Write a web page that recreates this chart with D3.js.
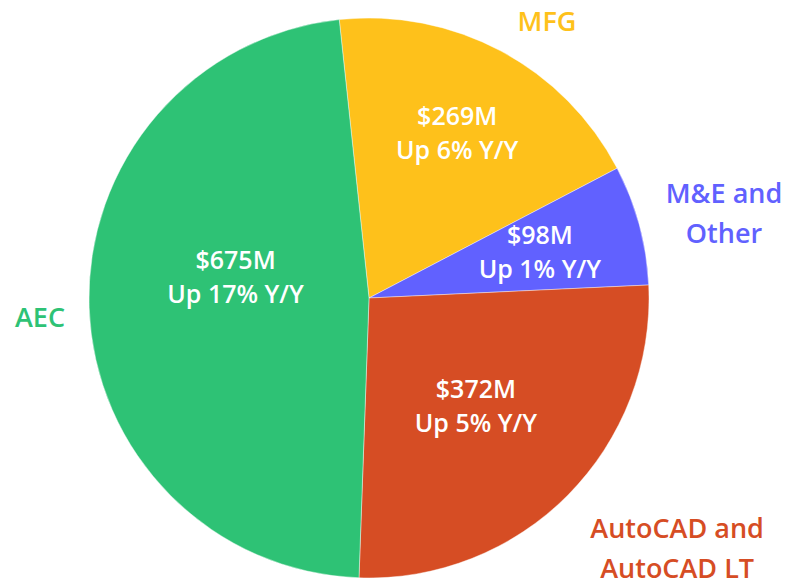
<!DOCTYPE html>
<html lang="en">
  <head>
    <meta charset="UTF-8" />
    <title>Revenue by segment</title>
    <script src="https://cdn.jsdelivr.net/npm/d3@7"></script>
    <style>
      body { margin: 0; background: #fff; }
      text { font-family: "Open Sans", "Noto Sans", sans-serif; font-weight: 600; }
    </style>
  </head>
  <body>
    <svg id="chart" width="788" height="586"></svg>

    <script>
      // data, clockwise from the top
      var categories = ["MFG", "M&E and Other", "AutoCAD and AutoCAD LT", "AEC"];
      var revenue = [269, 98, 372, 675];        // $M
      var growth = [6, 1, 5, 17];               // % Y/Y
      var outerLines = [["MFG"], ["M&E and", "Other"], ["AutoCAD and", "AutoCAD LT"], ["AEC"]];

      var colors = ["#fec11b", "#6161ff", "#d64d24", "#2ec275"];

      // label placement: distance from the centre and a small angle tweak (degrees)
      var innerPos = [[187, 0], [177, 0], [152, 0.6], [135, 10.8]];
      var outerPos = [[329, 4.6], [365, 1.7], [397, -5.6], [329.5, -1.2]];

      var cx = 369, cy = 298, radius = 280;
      var startDeg = -6.1;

      var svg = d3.select("#chart");
      var g = svg.append("g").attr("transform", "translate(" + cx + "," + cy + ")");

      var pie = d3.pie()
        .sort(null)
        .startAngle(startDeg * Math.PI / 180)
        .endAngle(startDeg * Math.PI / 180 + 2 * Math.PI)
        .value(function(d) { return d; });

      var arc = d3.arc().innerRadius(0).outerRadius(radius);
      var arcs = pie(revenue);

      g.selectAll(".slice")
        .data(arcs)
        .enter()
        .append("path")
        .attr("class", "slice")
        .attr("d", arc)
        .attr("fill", function(d, i) { return colors[i]; })
        .attr("stroke", "rgba(255,255,255,0.6)")
        .attr("stroke-width", 0.7);

      function place(d, pos) {
        var a = (d.startAngle + d.endAngle) / 2 + pos[1] * Math.PI / 180;
        return [pos[0] * Math.sin(a), -pos[0] * Math.cos(a)];
      }

      // values inside the slices
      var inner = g.selectAll(".inner")
        .data(arcs)
        .enter()
        .append("text")
        .attr("class", "inner")
        .attr("text-anchor", "middle")
        .attr("fill", "#fff")
        .attr("font-size", 25)
        .attr("transform", function(d, i) {
          return "translate(" + place(d, innerPos[i]) + ")";
        });

      inner.append("tspan")
        .attr("x", 0)
        .attr("y", -8)
        .text(function(d, i) { return "$" + revenue[i] + "M"; });

      inner.append("tspan")
        .attr("x", 0)
        .attr("y", 26)
        .text(function(d, i) { return "Up " + growth[i] + "% Y/Y"; });

      // category names outside
      var lineGap = 40;
      var outer = g.selectAll(".outer")
        .data(arcs)
        .enter()
        .append("text")
        .attr("class", "outer")
        .attr("text-anchor", "middle")
        .attr("font-size", 27)
        .attr("fill", function(d, i) { return colors[i]; })
        .attr("transform", function(d, i) {
          return "translate(" + place(d, outerPos[i]) + ")";
        });

      outer.selectAll("tspan")
        .data(function(d, i) { return outerLines[i]; })
        .enter()
        .append("tspan")
        .attr("x", 0)
        .attr("y", function(line, j, nodes) {
          var n = nodes.length;
          return 10 + (j - (n - 1) / 2) * lineGap;
        })
        .text(function(line) { return line; });
    </script>
  </body>
</html>
